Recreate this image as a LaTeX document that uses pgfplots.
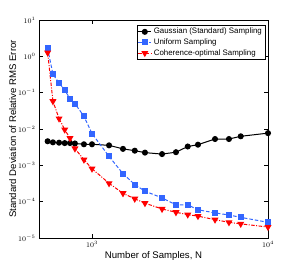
\documentclass[border=0pt]{standalone}
\usepackage{fontspec}
\setmainfont{Liberation Sans}
\usepackage{pgfplots}
\pgfplotsset{compat=1.18}
\definecolor{myblue}{rgb}{0.2,0.4,1}
\begin{document}
\begin{tikzpicture}
\begin{axis}[
  scale only axis,
  width=229pt, height=218pt,
  xmode=log, ymode=log,
  xmin=500, xmax=10000,
  ymin=1e-5, ymax=10,
  log basis x=10, log basis y=10,
  tick align=inside,
  xtick={1000,10000},
  ytick={1e-5,1e-4,1e-3,1e-2,1e-1,1,10},
  tick style={black, line width=0.4pt},
  major tick length=4pt, minor tick length=2pt,
  tick label style={font=\fontsize{7.5}{8}\selectfont},
  /pgf/number format/assume math mode=true,
  xlabel={Number of Samples, N},
  ylabel={Standard Deviation of Relative RMS Error},
  label style={font=\fontsize{9.6}{11}\selectfont},
  xlabel style={yshift=3pt},
  ylabel style={yshift=-5pt},
  legend style={at={(0.987,0.977)}, anchor=north east, font=\fontsize{7.9}{9}\selectfont,
    draw=black, line width=0.4pt, inner sep=1pt, row sep=-0.6pt, cells={anchor=west}},
  legend cell align=left,
  legend image code/.code={
    \draw[mark repeat=2,mark phase=2] plot coordinates {(0pt,0pt) (6.5pt,0pt) (13pt,0pt)};
  },
  every axis plot/.append style={line width=1pt},
]
\addplot[black, solid, mark=*, mark size=2.5pt, mark options={solid}] coordinates {
(560,4.6e-3) (600,4.3e-3) (650,4.2e-3) (700,4.1e-3) (750,4.1e-3) (800,4.0e-3)
(900,3.8e-3) (1000,3.8e-3) (1250,3.55e-3) (1500,2.84e-3) (1750,2.53e-3)
(2000,2.24e-3) (2500,2.04e-3) (3000,2.3e-3) (3500,3.3e-3) (4000,3.7e-3)
(5000,5.3e-3) (6000,5.3e-3) (7000,6.3e-3) (10000,7.7e-3)};
\addlegendentry{Gaussian (Standard) Sampling}
\addplot[myblue, dash pattern=on 3.5pt off 2pt, mark=square*, mark size=2.5pt, mark options={solid}] coordinates {
(560,1.66) (600,0.318) (650,0.187) (700,0.117) (750,0.069) (800,0.050)
(900,0.0224) (1000,7.5e-3) (1250,1.76e-3) (1500,5.9e-4) (1750,2.96e-4)
(2000,1.94e-4) (2500,1.27e-4) (3000,8.2e-5) (3500,8.2e-5) (4000,6.0e-5)
(5000,4.9e-5) (6000,4.3e-5) (7000,3.7e-5) (10000,2.7e-5)};
\addlegendentry{Uniform Sampling}
\addplot[red, dash pattern=on 3.5pt off 1.5pt on 1pt off 1.5pt, mark=triangle*, mark size=3.1pt, mark options={solid, rotate=180}] coordinates {
(560,1.26) (600,0.058) (650,0.0194) (700,0.0096) (750,0.0056) (800,0.0029)
(900,1.43e-3) (1000,8.1e-4) (1250,3.2e-4) (1500,1.7e-4) (1750,1.2e-4)
(2000,9.1e-5) (2500,6.3e-5) (3000,5.1e-5) (3500,4.4e-5) (4000,4.0e-5)
(5000,3.2e-5) (6000,2.7e-5) (7000,2.45e-5) (10000,2.0e-5)};
\addlegendentry{Coherence-optimal Sampling}
\end{axis}
\useasboundingbox (-39pt,-30pt) rectangle (258pt,238pt);
\end{tikzpicture}
\end{document}
